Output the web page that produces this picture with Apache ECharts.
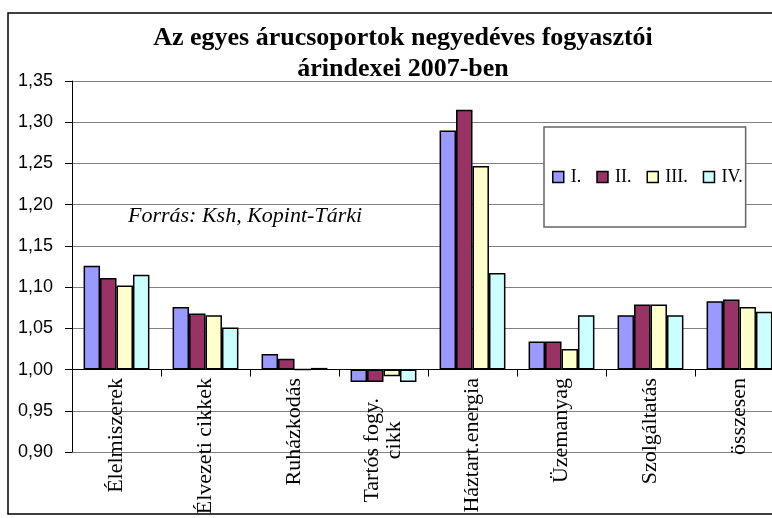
<!DOCTYPE html>
<html>
<head>
<meta charset="utf-8">
<script src="https://cdn.jsdelivr.net/npm/echarts@6/dist/echarts.min.js"></script>
<style>
  html, body { margin: 0; padding: 0; background: #fff; }
  #chart { width: 772px; height: 518px; }
</style>
</head>
<body>
<div id="chart"></div>
<script>
  // árucsoportok
  const categories = ['Élelmiszerek', 'Élvezeti cikkek', 'Ruházkodás', 'Tartós fogy.\ncikk',
    'Háztart.energia', 'Üzemanyag', 'Szolgáltatás', 'összesen']
  const quarters = ['I.', 'II.', 'III.', 'IV.']
  // árindexek negyedévenként (leolvasott értékek)
  const q1 = [1.126, 1.076, 1.019, 0.985, 1.290, 1.034, 1.066, 1.083]
  const q2 = [1.111, 1.068, 1.013, 0.985, 1.315, 1.034, 1.079, 1.085]
  const q3 = [1.102, 1.066, 1.000, 0.992, 1.247, 1.025, 1.079, 1.076]
  const q4 = [1.115, 1.051, 1.002, 0.985, 1.117, 1.066, 1.066, 1.070]
  const colors = ['#9999FF', '#993366', '#FFFFCC', '#CCFFFF']
  const yMin = 0.90
  const yMax = 1.35
  const yStep = 0.05
  const base = 1.00

  const chart = echarts.init(document.getElementById('chart'))
  const serif = 'Liberation Serif'
  const fmt = v => (v + base).toFixed(2).replace('.', ',')
  const catFont = { fontFamily: serif, fontSize: 22, color: '#000' }

  // az oszlopok az 1,00-s szinttől indulnak, ezért az eltérést rajzoljuk
  const series = [q1, q2, q3, q4].map((d, i) => ({
    name: quarters[i],
    type: 'bar',
    barGap: 0,
    barCategoryGap: '26%',
    itemStyle: {
      color: colors[i],
      borderColor: '#000',
      borderWidth: 1.5
    },
    data: d.map(v => +(v - base).toFixed(4))
  }))

  chart.setOption({
    backgroundColor: '#fff',
    animation: false,
    title: {
      text: 'Az egyes árucsoportok negyedéves fogyasztói\nárindexei 2007-ben',
      left: 398,
      top: 18,
      textAlign: 'center',
      textStyle: {
        fontFamily: serif,
        fontWeight: 'bold',
        fontSize: 26,
        lineHeight: 31,
        color: '#000'
      }
    },
    legend: {
      left: 544,
      top: 127,
      padding: [41, 3, 41, 8],
      itemGap: 15,
      itemWidth: 11,
      itemHeight: 11,
      icon: 'rect',
      backgroundColor: '#fff',
      borderColor: '#666',
      borderWidth: 1.5,
      itemStyle: { borderColor: '#000', borderWidth: 1.5 },
      textStyle: { fontFamily: serif, fontSize: 18, color: '#000', padding: [0, 0, 0, 2] },
      data: quarters
    },
    grid: {
      left: 72,
      top: 81,
      width: 712,
      height: 371,
      containLabel: false,
      outerBoundsMode: 'none'
    },
    xAxis: {
      type: 'category',
      data: categories,
      axisLine: { onZero: true, lineStyle: { color: '#000', width: 1 } },
      axisTick: { show: true, length: 7, lineStyle: { color: '#000' } },
      axisLabel: {
        rotate: 90,
        interval: 0,
        margin: -74,
        ...catFont,
        // kétsoros felirat: a második sor középre
        formatter(v) {
          const parts = v.split('\n')
          if (parts.length < 2) return v
          return '{t|' + parts[0] + '}\n{c|' + parts[1] + '}'
        },
        rich: {
          t: { ...catFont, lineHeight: 22, padding: [0, 20, 0, 0] },
          c: { ...catFont, lineHeight: 22, align: 'center' }
        }
      }
    },
    yAxis: {
      type: 'value',
      min: +(yMin - base).toFixed(2),
      max: +(yMax - base).toFixed(2),
      interval: yStep,
      axisLine: { show: true, lineStyle: { color: '#000', width: 1 } },
      axisTick: { show: true, length: 7, lineStyle: { color: '#000' } },
      splitLine: { show: true, lineStyle: { color: '#808080', width: 1.2 } },
      axisLabel: {
        margin: 19,
        formatter: fmt,
        fontFamily: 'Liberation Sans',
        fontSize: 18,
        color: '#000'
      }
    },
    graphic: [
      {
        type: 'text',
        left: 128,
        top: 205,
        style: {
          text: 'Forrás: Ksh, Kopint-Tárki',
          font: 'italic 22px "Liberation Serif"',
          fill: '#000'
        }
      },
      {
        type: 'rect',
        shape: { x: 8, y: 13, width: 800, height: 501 },
        style: { fill: 'none', stroke: '#000', lineWidth: 1.5 },
        silent: true,
        z: 100
      }
    ],
    series: series
  })
</script>
</body>
</html>
